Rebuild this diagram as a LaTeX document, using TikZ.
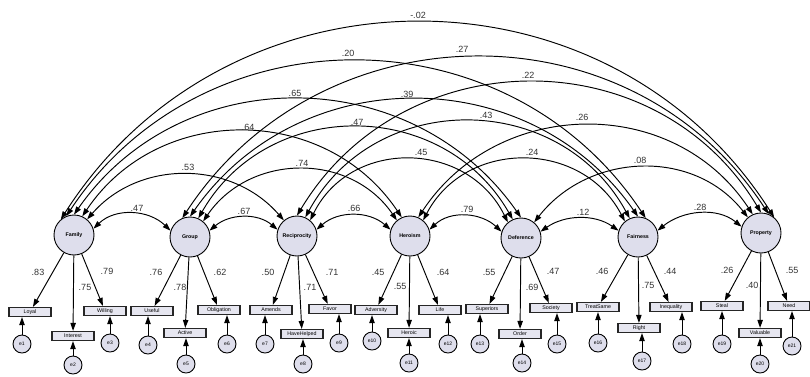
\documentclass[tikz,border=0pt]{standalone}
\usepackage{fontspec}
\setmainfont{Liberation Sans}
\usetikzlibrary{arrows.meta}
\definecolor{facfill}{RGB}{222,222,236}
\definecolor{boxfill}{RGB}{230,230,240}
\begin{document}
\begin{tikzpicture}[x=1pt,y=1pt,
  >={Triangle[length=8pt,width=5.4pt]},
  fac/.style={circle,draw=black,line width=0.9pt,fill=facfill,minimum size=40pt,inner sep=0pt,font=\fontsize{5.3}{6}\selectfont\bfseries},
  obs/.style={rectangle,draw=black!85,line width=1.2pt,fill=boxfill,minimum width=42pt,minimum height=9pt,inner sep=0pt,font=\fontsize{5.3}{5}\selectfont},
  err/.style={circle,draw=black,line width=0.9pt,fill=facfill,minimum size=18pt,inner sep=0pt,font=\fontsize{5}{5}\selectfont},
  cov/.style={<->,line width=0.95pt},
  load/.style={->,line width=0.95pt},
  lab/.style={font=\fontsize{9}{9}\selectfont,text=black!80,inner sep=0pt}]
\fill[white] (0,0) rectangle (810,-376);
\useasboundingbox (0,0) rectangle (810,-376);

% factors
\node[fac] (Fam) at (74,-235) {Family};
\node[fac] (Grp) at (190,-237) {Group};
\node[fac] (Rec) at (297,-236) {Reciprocity};
\node[fac] (Her) at (410,-236) {Heroism};
\node[fac] (Def) at (521,-238) {Deference};
\node[fac] (Fai) at (638,-237) {Fairness};
\node[fac] (Pro) at (761,-233) {Property};

% covariances, span 1
\draw[cov] (Fam.18) to[out=44,in=136,distance=30.5pt] (Grp.162);
\draw[cov] (Grp.18) to[out=40,in=140,distance=26.5pt] (Rec.162);
\draw[cov] (Rec.18) to[out=41,in=139,distance=29pt] (Her.162);
\draw[cov] (Her.18) to[out=43,in=137,distance=28.5pt] (Def.162);
\draw[cov] (Def.18) to[out=35,in=145,distance=29.5pt] (Fai.162);
\draw[cov] (Fai.18) to[out=39,in=141,distance=32pt] (Pro.162);
% span 2
\draw[cov] (Fam.50) to[out=49,in=131,distance=79.6pt] (Rec.130);
\draw[cov] (Grp.50) to[out=55.6,in=124.4,distance=82.8pt] (Her.130);
\draw[cov] (Rec.50) to[out=63.8,in=116.2,distance=91.8pt] (Def.130);
\draw[cov] (Her.50) to[out=62.4,in=117.6,distance=92.2pt] (Fai.130);
\draw[cov] (Def.50) to[out=52,in=128,distance=88.4pt] (Pro.130);
% span 3
\draw[cov] (Fam.66) to[out=56.2,in=123.8,distance=136.9pt] (Her.114);
\draw[cov] (Grp.66) to[out=60.2,in=119.8,distance=140.2pt] (Def.114);
\draw[cov] (Rec.66) to[out=61.3,in=118.7,distance=146.3pt] (Fai.114);
\draw[cov] (Her.66) to[out=56.6,in=123.4,distance=144pt] (Pro.114);
% span 4
\draw[cov] (Fam.90) to[out=55.1,in=124.9,distance=189.5pt] (Def.90);
\draw[cov] (Grp.90) to[out=55.1,in=124.9,distance=190pt] (Fai.90);
\draw[cov] (Rec.90) to[out=59,in=121,distance=204.4pt] (Pro.90);
% span 5
\draw[cov] (Fam.112) to[out=56.5,in=123.5,distance=248.8pt] (Fai.68);
\draw[cov] (Grp.112) to[out=56.8,in=123.2,distance=252.5pt] (Pro.68);
% span 6
\draw[cov] (Fam.130) to[out=57.5,in=122.5,distance=309.3pt] (Pro.50);

% covariance labels
\node[lab] (c1) at (137,-208) {.47};
\node[lab] (c2) at (244,-211) {.67};
\node[lab] (c3) at (354,-208) {.66};
\node[lab] (c4) at (467,-209) {.79};
\node[lab] (c5) at (583,-212) {.12};
\node[lab] (c6) at (700,-207) {.28};
\node[lab] (c7) at (188,-167) {.53};
\node[lab] (c8) at (302,-163) {.74};
\node[lab] (c9) at (421,-152) {.45};
\node[lab] (c10) at (532,-152) {.24};
\node[lab] (c11) at (640,-160) {.08};
\node[lab] (c12) at (248,-127) {.64};
\node[lab] (c13) at (357,-122) {.47};
\node[lab] (c14) at (486,-115) {.43};
\node[lab] (c15) at (582,-117) {.26};
\node[lab] (c16) at (295,-93) {.65};
\node[lab] (c17) at (407,-94) {.39};
\node[lab] (c18) at (528,-75) {.22};
\node[lab] (c19) at (348,-53) {.20};
\node[lab] (c20) at (462,-49) {.27};
\node[lab] (c21) at (418,-15) {-.02};

% observed variables
\node[obs] (Loyal) at (30,-312) {Loyal};
\node[obs] (Interest) at (73,-336) {Interest};
\node[obs] (Willing) at (105,-311) {Willing};
\node[obs] (Useful) at (152,-311) {Useful};
\node[obs] (Active) at (185,-333) {Active};
\node[obs] (Obligation) at (219,-310) {Obligation};
\node[obs] (Amends) at (271,-310) {Amends};
\node[obs] (HaveHelped) at (302,-334) {HaveHelped};
\node[obs] (Favor) at (330,-309) {Favor};
\node[obs] (Adversity) at (376,-310) {Adversity};
\node[obs] (Heroic) at (409,-333) {Heroic};
\node[obs] (Life) at (440,-310) {Life};
\node[obs] (Superiors) at (487,-309) {Superiors};
\node[obs] (Order) at (520,-334) {Order};
\node[obs] (Society) at (551,-308) {Society};
\node[obs] (TreatSame) at (598,-307) {TreatSame};
\node[obs] (Right) at (639,-328) {Right};
\node[obs] (Inequality) at (671,-307) {Inequality};
\node[obs] (Steal) at (722,-306) {Steal};
\node[obs] (Valuable) at (760,-333) {Valuable};
\node[obs] (Need) at (789,-306) {Need};

% loadings
\draw[load] (Fam) -- (Loyal);
\draw[load] (Fam) -- (Interest);
\draw[load] (Fam) -- (Willing);
\draw[load] (Grp) -- (Useful);
\draw[load] (Grp) -- (Active);
\draw[load] (Grp) -- (Obligation);
\draw[load] (Rec) -- (Amends);
\draw[load] (Rec) -- (HaveHelped);
\draw[load] (Rec) -- (Favor);
\draw[load] (Her) -- (Adversity);
\draw[load] (Her) -- (Heroic);
\draw[load] (Her) -- (Life);
\draw[load] (Def) -- (Superiors);
\draw[load] (Def) -- (Order);
\draw[load] (Def) -- (Society);
\draw[load] (Fai) -- (TreatSame);
\draw[load] (Fai) -- (Right);
\draw[load] (Fai) -- (Inequality);
\draw[load] (Pro) -- (Steal);
\draw[load] (Pro) -- (Valuable);
\draw[load] (Pro) -- (Need);

% loading labels
\node[lab] (l1) at (38,-272) {.83};
\node[lab] (l2) at (85,-287) {.75};
\node[lab] (l3) at (107,-271) {.79};
\node[lab] (l4) at (156,-272) {.76};
\node[lab] (l5) at (180,-287) {.78};
\node[lab] (l6) at (220,-272) {.62};
\node[lab] (l7) at (268,-272) {.50};
\node[lab] (l8) at (310,-287) {.71};
\node[lab] (l9) at (332,-272) {.71};
\node[lab] (l10) at (378,-272) {.45};
\node[lab] (l11) at (400,-286) {.55};
\node[lab] (l12) at (443,-272) {.64};
\node[lab] (l13) at (489,-272) {.55};
\node[lab] (l14) at (532,-287) {.69};
\node[lab] (l15) at (553,-271) {.47};
\node[lab] (l16) at (602,-271) {.46};
\node[lab] (l17) at (648,-285) {.75};
\node[lab] (l18) at (670,-271) {.44};
\node[lab] (l19) at (727,-270) {.26};
\node[lab] (l20) at (752,-285) {.40};
\node[lab] (l21) at (792,-270) {.55};

% errors
\node[err] (e1) at (22,-344) {e1};
\node[err] (e2) at (73,-365) {e2};
\node[err] (e3) at (110,-343) {e3};
\node[err] (e4) at (148,-345) {e4};
\node[err] (e5) at (186,-364) {e5};
\node[err] (e6) at (227,-344) {e6};
\node[err] (e7) at (265,-344) {e7};
\node[err] (e8) at (303,-364) {e8};
\node[err] (e9) at (339,-343) {e9};
\node[err] (e10) at (372,-341) {e10};
\node[err] (e11) at (409,-363) {e11};
\node[err] (e12) at (448,-344) {e12};
\node[err] (e13) at (480,-344) {e13};
\node[err] (e14) at (522,-363) {e14};
\node[err] (e15) at (557,-344) {e15};
\node[err] (e16) at (598,-343) {e16};
\node[err] (e17) at (642,-361) {e17};
\node[err] (e18) at (682,-344) {e18};
\node[err] (e19) at (722,-344) {e19};
\node[err] (e20) at (760,-364) {e20};
\node[err] (e21) at (792,-346) {e21};

\draw[load] (e1) -- (e1 |- Loyal.south);
\draw[load] (e2) -- (e2 |- Interest.south);
\draw[load] (e3) -- (e3 |- Willing.south);
\draw[load] (e4) -- (e4 |- Useful.south);
\draw[load] (e5) -- (e5 |- Active.south);
\draw[load] (e6) -- (e6 |- Obligation.south);
\draw[load] (e7) -- (e7 |- Amends.south);
\draw[load] (e8) -- (e8 |- HaveHelped.south);
\draw[load] (e9) -- (e9 |- Favor.south);
\draw[load] (e10) -- (e10 |- Adversity.south);
\draw[load] (e11) -- (e11 |- Heroic.south);
\draw[load] (e12) -- (e12 |- Life.south);
\draw[load] (e13) -- (e13 |- Superiors.south);
\draw[load] (e14) -- (e14 |- Order.south);
\draw[load] (e15) -- (e15 |- Society.south);
\draw[load] (e16) -- (e16 |- TreatSame.south);
\draw[load] (e17) -- (e17 |- Right.south);
\draw[load] (e18) -- (e18 |- Inequality.south);
\draw[load] (e19) -- (e19 |- Steal.south);
\draw[load] (e20) -- (e20 |- Valuable.south);
\draw[load] (e21) -- (e21 |- Need.south);
\end{tikzpicture}
\end{document}
